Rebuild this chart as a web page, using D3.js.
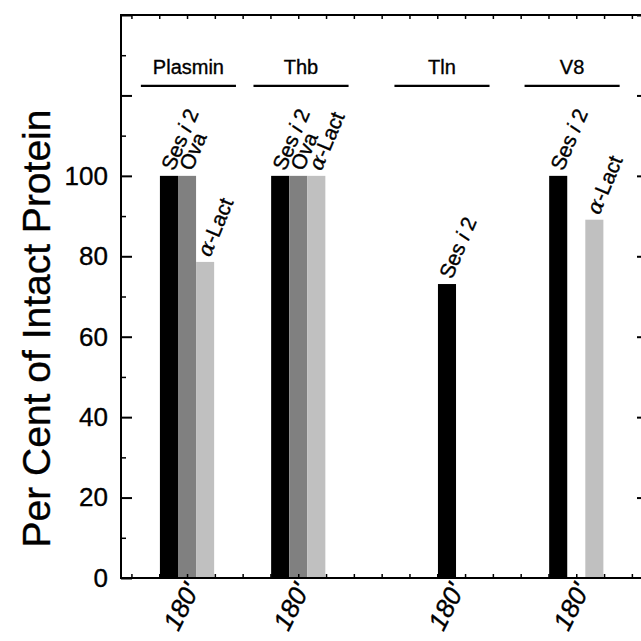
<!DOCTYPE html>
<html>
<head>
<meta charset="utf-8">
<script src="https://cdn.jsdelivr.net/npm/d3@7"></script>
<style>
  html, body { margin: 0; padding: 0; background: #fff; }
  svg { display: block; font-family: "Liberation Sans", Arial, sans-serif; }
  text { stroke: #000; stroke-width: 0.35px; }
</style>
</head>
<body>
<svg id="chart" width="641" height="641"></svg>
<script>
// Proteases, their position along the x axis and the header placement
const enzymes = ["Plasmin", "Thb", "Tln", "V8"];
const enzymePos = [3, 7, 13, 17];
const headerPos = [3.05, 7.1, 12.17, 16.85];
const timeLabels = ["180'", "180'", "180'", "180'"];
const timePos = [3.18, 7.14, 12.71, 17.21];

// Substrates and per cent of intact protein remaining after digestion
const substrates = ["Ses i 2", "Ova", "α-Lact"];
const sesValues = [100, 100, 73.1, 100];
const ovaValues = [100, 100, null, null];
const lactValues = [78.6, 100, null, 89.1];

const yTicks = [0, 20, 40, 60, 80, 100];
const barColors = ["#000000", "#808080", "#c0c0c0"];

const svg = d3.select("#chart");
const plotL = 121, plotR = 643, plotT = 15, plotB = 578;

const x = d3.scaleLinear().domain([0.625, 19.4]).range([plotL, plotR]);
const y = d3.scaleLinear().domain([0, 140]).range([plotB, plotT]);
const slot = 0.65; // bar width in x units

const seriesValues = [sesValues, ovaValues, lactValues];
const bars = [];
enzymes.forEach((e, i) => {
  seriesValues.forEach((vals, j) => {
    if (vals[i] != null) {
      bars.push({ enzyme: e, sub: substrates[j], j, pos: enzymePos[i] + (j - 1) * slot, value: vals[i] });
    }
  });
});

// Bars
svg.append("g").selectAll("rect").data(bars).join("rect")
  .attr("x", d => x(d.pos - slot / 2))
  .attr("width", d => x(d.pos + slot / 2) - x(d.pos - slot / 2))
  .attr("y", d => y(d.value))
  .attr("height", d => y(0) - y(d.value))
  .attr("fill", d => barColors[d.j]);

// Rotated substrate labels above each bar
const lab = svg.append("g").selectAll("text").data(bars).join("text")
  .attr("transform", d => `translate(${x(d.pos) + 5},${y(d.value) - 4}) rotate(-67)`)
  .attr("font-size", 21)
  .attr("text-anchor", "start");
lab.each(function(d) {
  const t = d3.select(this);
  if (d.sub === "Ses i 2") {
    t.append("tspan").text("Ses ");
    t.append("tspan").attr("font-style", "italic").text("i");
    t.append("tspan").text(" 2");
  } else if (d.sub === "α-Lact") {
    t.append("tspan").attr("font-family", "'DejaVu Serif', serif").attr("font-style", "italic").text("α");
    t.append("tspan").text("-Lact");
  } else {
    t.text(d.sub);
  }
});

// Frame axes
const axes = svg.append("g").attr("stroke", "#000").attr("stroke-width", 2).attr("fill", "none");
axes.append("line").attr("x1", plotL).attr("x2", plotL).attr("y1", plotT).attr("y2", plotB + 1);
axes.append("line").attr("x1", plotL - 1).attr("x2", plotR).attr("y1", plotB).attr("y2", plotB);
axes.append("line").attr("x1", plotL - 1).attr("x2", plotR).attr("y1", plotT).attr("y2", plotT);
axes.append("line").attr("x1", plotR).attr("x2", plotR).attr("y1", plotT).attr("y2", plotB);

// Left axis: inward ticks, labels 0-100
const yAxis = d3.axisLeft(y).tickValues(d3.range(0, 141, 20)).tickSizeInner(-11).tickSizeOuter(0)
  .tickFormat(d => yTicks.includes(d) ? d : "");
const gy = svg.append("g").attr("transform", `translate(${plotL},0)`).call(yAxis);
gy.select(".domain").remove();
gy.selectAll(".tick line").attr("stroke-width", 2);
gy.selectAll(".tick text").attr("x", -13).attr("font-size", 26)
  .attr("font-family", "'Liberation Sans', Arial, sans-serif").attr("fill", "#000");

const yMinor = d3.axisLeft(y).tickValues(d3.range(10, 141, 20)).tickSize(-5).tickFormat("");
const gym = svg.append("g").attr("transform", `translate(${plotL},0)`).call(yMinor);
gym.select(".domain").remove();
gym.selectAll(".tick line").attr("stroke-width", 1.5);

// Right axis: inward major ticks
const gr = svg.append("g").attr("transform", `translate(${plotR},0)`)
  .call(d3.axisRight(y).tickValues(d3.range(20, 141, 20)).tickSize(-6).tickFormat(""));
gr.select(".domain").remove();
gr.selectAll(".tick line").attr("stroke-width", 2);

// Top and bottom axes: small inward ticks every unit
const unitTicks = d3.range(1, 20, 1);
const gt = svg.append("g").attr("transform", `translate(0,${plotT})`)
  .call(d3.axisTop(x).tickValues(unitTicks).tickSize(-4).tickFormat(""));
gt.select(".domain").remove();
gt.selectAll(".tick line").attr("stroke-width", 1.5);
const gb = svg.append("g").attr("transform", `translate(0,${plotB})`)
  .call(d3.axisBottom(x).tickValues(unitTicks).tickSize(-4).tickFormat(""));
gb.select(".domain").remove();
gb.selectAll(".tick line").attr("stroke-width", 1.5);

// Time labels under each enzyme group
svg.append("g").selectAll("text").data(timePos).join("text")
  .attr("transform", (d) => `translate(${x(d)},${plotB + 7}) rotate(-63)`)
  .attr("text-anchor", "end")
  .attr("dy", "0.35em")
  .attr("font-size", 26)
  .attr("font-style", "italic")
  .text((d, i) => timeLabels[i]);

// Enzyme headers with underline
const hdr = svg.append("g");
hdr.selectAll("text").data(enzymes).join("text")
  .attr("x", (d, i) => x(headerPos[i]))
  .attr("y", y(125.3))
  .attr("text-anchor", "middle")
  .attr("font-size", 20)
  .text(d => d);
hdr.selectAll("line").data(enzymes).join("line")
  .attr("x1", (d, i) => x(headerPos[i] - 1.71))
  .attr("x2", (d, i) => x(headerPos[i] + 1.71))
  .attr("y1", y(122.4)).attr("y2", y(122.4))
  .attr("stroke", "#000").attr("stroke-width", 2.2);

// Y axis title
svg.append("text")
  .attr("transform", `translate(50,${(112 + 545) / 2}) rotate(-90)`)
  .attr("text-anchor", "middle")
  .attr("font-size", 39)
  .text("Per Cent of Intact Protein");
</script>
</body>
</html>
